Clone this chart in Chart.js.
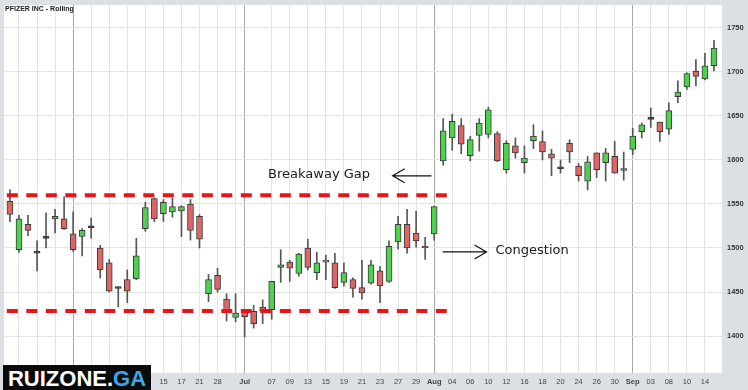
<!DOCTYPE html>
<html><head><meta charset="utf-8">
<script src="https://cdn.jsdelivr.net/npm/chart.js@4.4.1/dist/chart.umd.min.js"></script>
<style>
html,body{margin:0;padding:0;background:#dcdfe4;}
#wrap{position:relative;width:748px;height:390px;overflow:hidden;background:#dcdfe4;}
canvas{display:block;}
.title{position:absolute;left:5px;top:5px;font:bold 7px "Liberation Sans",Arial,sans-serif;color:#222;white-space:nowrap;}
.wm{position:absolute;left:3px;top:365px;width:148px;height:25px;background:#0b0b0b;color:#fff;font:bold 22px "Liberation Sans",Arial,sans-serif;line-height:27px;text-align:center;white-space:nowrap;}
.wm span{color:#3aa7ea;}
</style></head>
<body><div id="wrap">
<canvas id="c" width="748" height="390"></canvas>
<div class="title">PFIZER INC - Rolling</div>
<div class="wm">RUIZONE.<span>GA</span></div>
</div>
<script>
// ---- data ----
const opens  = [1553,1498,1527,1494,1511,1533,1533,1516,1513,1523,1500,1483,1454,1464,1465,1522,1556,1539,1541,1542,1550,1536,1448,1469,1442,1421,1429,1428,1433,1430,1478,1484,1471,1500,1472,1484,1483,1461,1464,1455,1460,1474,1462,1507,1527,1517,1502,1516,1599,1625,1639,1605,1628,1629,1630,1589,1616,1597,1622,1621,1607,1590,1619,1593,1576,1608,1597,1604,1588,1612,1632,1646,1643,1635,1672,1683,1701,1692,1707];
const highs  = [1566,1537,1537,1508,1540,1544,1558,1541,1522,1534,1503,1487,1456,1475,1511,1552,1557,1555,1557,1548,1555,1538,1470,1477,1448,1448,1430,1435,1441,1462,1498,1486,1494,1510,1495,1492,1494,1483,1466,1486,1486,1479,1508,1536,1544,1542,1512,1547,1647,1652,1647,1627,1647,1660,1632,1622,1625,1616,1640,1633,1612,1600,1623,1596,1604,1608,1613,1621,1609,1636,1642,1659,1643,1665,1690,1699,1714,1721,1736];
const lows   = [1530,1495,1514,1474,1500,1517,1521,1496,1491,1511,1466,1450,1433,1438,1464,1519,1530,1530,1535,1513,1509,1500,1439,1450,1417,1416,1399,1409,1414,1419,1461,1462,1468,1475,1464,1464,1454,1457,1444,1442,1459,1438,1461,1499,1494,1501,1487,1509,1594,1611,1607,1599,1610,1625,1598,1585,1602,1585,1613,1600,1582,1585,1597,1576,1566,1580,1576,1585,1577,1606,1625,1637,1621,1629,1665,1680,1684,1691,1701];
const closes = [1538,1533,1520,1494,1511,1536,1522,1498,1520,1523,1475,1451,1454,1451,1491,1546,1533,1552,1547,1547,1520,1510,1464,1453,1428,1426,1422,1414,1428,1462,1481,1477,1493,1478,1483,1486,1455,1472,1454,1449,1481,1457,1502,1527,1500,1508,1500,1547,1633,1644,1618,1623,1642,1657,1599,1619,1608,1602,1627,1609,1602,1590,1609,1582,1598,1589,1608,1585,1590,1627,1640,1646,1632,1656,1677,1698,1695,1707,1727];
// x tick labels (positions are candle indices)
const tickPos  = [1,3,5,7,9,11,13,15,17,19,21,23,25,26,29,31,33,35,37,39,41,43,45,47,49,51,53,55,57,59,61,63,65,67,69,71,73,75,77];
const tickText = ['22','24','30','Jun','05','07','11','13','15','17','21','28','','Jul','07','09','13','15','19','21','23','27','29','Aug','04','06','10','12','16','18','20','24','26','30','Sep','03','08','10','14'];
const monthNames = ['Jun','Jul','Aug','Sep'];
const yTicks = [1400,1450,1500,1550,1600,1650,1700,1750];
// horizontal resistance / support levels and their index span
const levels = [1560, 1428.5];
const levelSpan = [-0.35, 48.5];
// annotations (index, value)
const notes  = [{text:'Breakaway Gap', x:28.6, y:1583}, {text:'Congestion', x:53.8, y:1496.5}];
const arrows = [{from:46.7, to:42.4, y:1582}, {from:47.95, to:52.8, y:1495.5}];

// ---- build datasets ----
const bodies = opens.map((o,i)=>({x:i, y:[Math.min(o,closes[i]), Math.max(o,closes[i])]}));
const wicks  = lows.map((l,i)=>({x:i, y:[l, highs[i]]}));
const bodyColors = opens.map((o,i)=> closes[i]>o ? '#4fd04f' : (closes[i]<o ? '#de6565' : '#333'));
const levelSets = levels.map(v=>({
  type:'line', data:[{x:levelSpan[0],y:v},{x:levelSpan[1],y:v}],
  borderColor:'#e8141a', borderWidth:4, borderDash:[11,8.5], pointRadius:0, fill:false, order:0
}));

const bgPlugin = {
  id:'bg',
  beforeDraw(chart){
    const {ctx, chartArea:a} = chart;
    ctx.save(); ctx.fillStyle='#ffffff';
    ctx.fillRect(a.left, a.top, a.right-a.left, a.bottom-a.top);
    ctx.restore();
  }
};
const notePlugin = {
  id:'notes',
  afterDraw(chart){
    const {ctx, scales:{x,y}} = chart;
    ctx.save();
    ctx.fillStyle='#1a1a1a';
    ctx.font='13px "DejaVu Sans", Verdana, sans-serif';
    ctx.textBaseline='middle';
    notes.forEach(n=>ctx.fillText(n.text, x.getPixelForValue(n.x), y.getPixelForValue(n.y)));
    ctx.strokeStyle='#111'; ctx.lineWidth=1.2;
    arrows.forEach(a=>{
      const x1=x.getPixelForValue(a.from), x2=x.getPixelForValue(a.to), yy=y.getPixelForValue(a.y);
      const d = Math.sign(x2-x1);
      ctx.beginPath();
      ctx.moveTo(x1,yy); ctx.lineTo(x2,yy);
      ctx.moveTo(x2-d*12,yy-7); ctx.lineTo(x2,yy); ctx.lineTo(x2-d*12,yy+7);
      ctx.stroke();
    });
    ctx.restore();
  }
};

const tickLabelAt = v => { const k = tickPos.indexOf(v); return k>=0 ? tickText[k] : ''; };

new Chart(document.getElementById('c'), {
  type:'bar',
  data:{
    datasets:[
      {label:'body', data:bodies, backgroundColor:bodyColors, borderColor:'#3a3a3a', borderWidth:1, borderSkipped:false,
       barThickness:6, minBarLength:2, grouped:false, order:1},
      {label:'wick', data:wicks, backgroundColor:'#555', borderWidth:0, barThickness:1, grouped:false, order:2},
      ...levelSets
    ]
  },
  options:{
    responsive:false, animation:false, events:[],
    layout:{padding:{left:4, top:5, right:0, bottom:0}},
    plugins:{legend:{display:false}, tooltip:{enabled:false}, title:{display:false}},
    scales:{
      x:{type:'linear', min:-0.66, max:78.89, offset:false,
         afterBuildTicks:s=>{ s.ticks = tickPos.map(v=>({value:v})); },
         afterFit:s=>{ s.height = 17; s.paddingLeft = 0; s.paddingRight = 0; },
         border:{display:false},
         grid:{offset:false, drawTicks:false, lineWidth:1,
               color:ctx=>{ const t = ctx.tick ? tickLabelAt(ctx.tick.value) : ''; return monthNames.includes(t) ? '#a8a8a8' : '#e4e4e4'; }},
         ticks:{autoSkip:false, maxRotation:0, padding:4, color:'#444',
                callback:v=>tickLabelAt(v),
                font:ctx=>{ const t = ctx.tick ? tickLabelAt(ctx.tick.value) : ''; return {family:'"Liberation Sans", Arial, sans-serif', size:7.5, weight: monthNames.includes(t)?'bold':'normal'}; }}
      },
      y:{position:'right', min:1358, max:1776,
         afterBuildTicks:s=>{ s.ticks = yTicks.map(v=>({value:v})); },
         afterFit:s=>{ s.width = 26; s.paddingTop = 0; s.paddingBottom = 0; },
         border:{display:false},
         grid:{drawTicks:false, color:'#e4e4e4'},
         ticks:{padding:5, color:'#333', callback:v=>String(v), font:{family:'"Liberation Sans", Arial, sans-serif', size:7.5, weight:'bold'}}
      }
    }
  },
  plugins:[bgPlugin, notePlugin]
});
</script>
</body></html>
